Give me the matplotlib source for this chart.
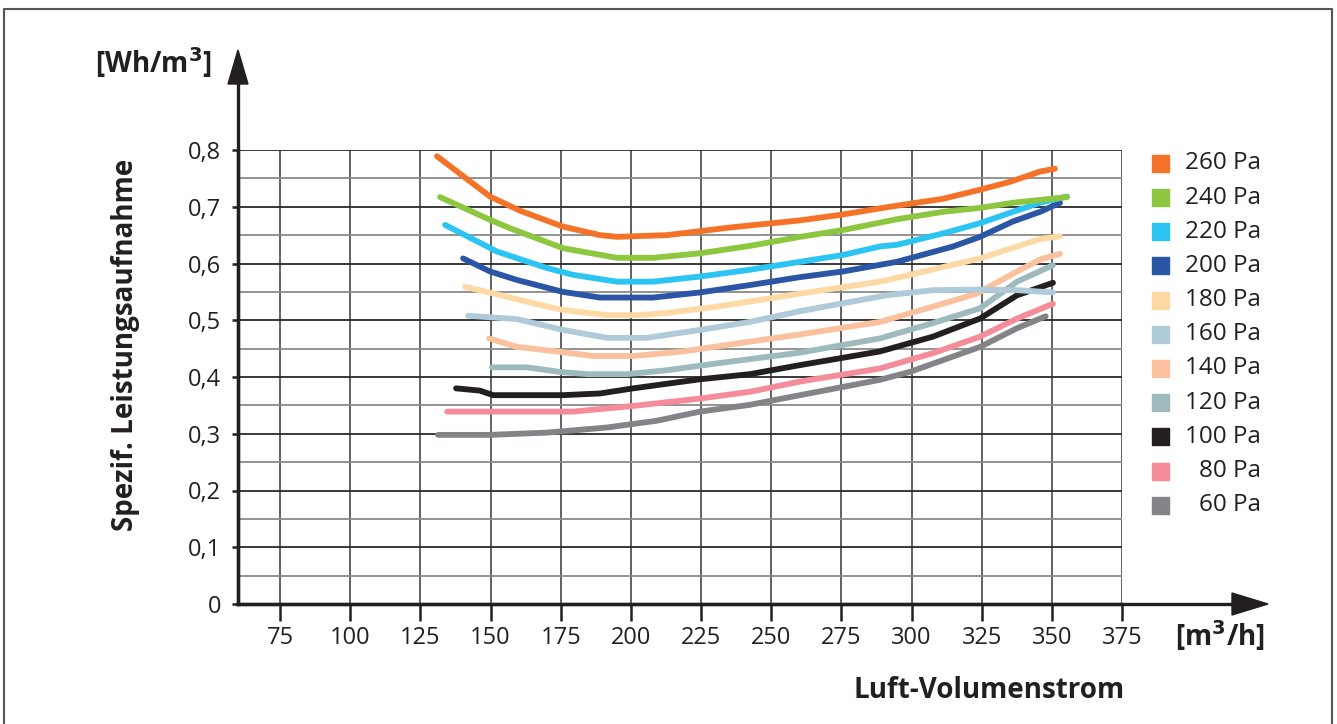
import matplotlib
matplotlib.use("Agg")
import matplotlib.pyplot as plt
from matplotlib.patches import Rectangle, Polygon
from matplotlib.lines import Line2D
import numpy as np

plt.rcParams['font.family'] = ['Open Sans', 'DejaVu Sans']

# ---------------- data ----------------
labels = ["260 Pa", "240 Pa", "220 Pa", "200 Pa", "180 Pa", "160 Pa",
          "140 Pa", "120 Pa", "100 Pa", "80 Pa", "60 Pa"]
colors = ["#F47328", "#8DC63F", "#2BC4F3", "#2B55A5", "#FDD9A5", "#AFCAD8",
          "#FBC09E", "#9DBBBC", "#231F20", "#F48D99", "#838487"]

x260 = [130.9, 149.8, 160.5, 175.8, 189.0, 195.0, 212.9, 224.6, 236.4, 260.3, 275.0, 292.3, 311.2, 324.4, 335.1, 345.8, 351.1]
y260 = [0.789, 0.718, 0.693, 0.665, 0.650, 0.647, 0.650, 0.657, 0.664, 0.676, 0.686, 0.700, 0.714, 0.730, 0.744, 0.762, 0.767]

x240 = [132.0, 149.8, 157.0, 175.8, 195.0, 207.9, 224.6, 242.4, 260.3, 275.6, 294.8, 311.2, 324.4, 336.1, 345.8, 355.4]
y240 = [0.717, 0.677, 0.662, 0.627, 0.610, 0.610, 0.618, 0.631, 0.647, 0.659, 0.678, 0.691, 0.698, 0.707, 0.712, 0.717]

x220 = [133.8, 152.3, 170.1, 179.4, 195.0, 207.9, 224.6, 242.4, 260.3, 275.6, 288.7, 294.8, 311.2, 324.4, 336.1, 345.8, 355.4]
y220 = [0.668, 0.621, 0.592, 0.580, 0.568, 0.568, 0.577, 0.589, 0.603, 0.615, 0.630, 0.633, 0.653, 0.671, 0.691, 0.707, 0.718]

x200 = [140.2, 149.8, 159.4, 175.8, 189.0, 207.9, 224.6, 242.4, 260.3, 275.6, 294.8, 314.8, 324.4, 336.1, 345.8, 352.9]
y200 = [0.609, 0.586, 0.571, 0.550, 0.540, 0.540, 0.549, 0.562, 0.576, 0.586, 0.603, 0.630, 0.647, 0.674, 0.691, 0.707]

x180 = [140.9, 148.7, 165.1, 175.8, 191.5, 203.2, 212.9, 230.7, 260.3, 288.7, 299.4, 324.4, 345.8, 352.9]
y180 = [0.559, 0.550, 0.530, 0.518, 0.509, 0.509, 0.513, 0.524, 0.547, 0.568, 0.580, 0.609, 0.643, 0.648]

x160 = [142.0, 159.4, 175.8, 191.5, 205.7, 224.6, 242.4, 260.3, 275.6, 291.2, 307.6, 324.4, 337.6, 350.4]
y160 = [0.508, 0.502, 0.483, 0.469, 0.469, 0.483, 0.497, 0.516, 0.530, 0.544, 0.553, 0.554, 0.553, 0.549]

x140 = [149.5, 159.4, 173.7, 186.5, 200.8, 218.6, 236.4, 260.3, 288.7, 307.6, 323.3, 337.6, 345.8, 352.9]
y140 = [0.468, 0.453, 0.445, 0.437, 0.437, 0.445, 0.458, 0.475, 0.497, 0.524, 0.547, 0.586, 0.607, 0.617]

x120 = [150.5, 163.0, 174.7, 184.4, 198.6, 212.9, 230.7, 260.3, 288.7, 307.6, 324.4, 337.6, 350.4]
y120 = [0.417, 0.417, 0.409, 0.405, 0.405, 0.412, 0.424, 0.443, 0.468, 0.495, 0.521, 0.568, 0.597]

x100 = [137.7, 146.2, 150.9, 175.8, 189.0, 200.8, 224.6, 242.4, 260.3, 288.7, 307.6, 324.4, 337.6, 350.4]
y100 = [0.380, 0.376, 0.368, 0.368, 0.371, 0.380, 0.396, 0.405, 0.421, 0.445, 0.471, 0.503, 0.544, 0.566]

x80 = [134.5, 179.4, 200.8, 224.6, 242.4, 260.3, 288.7, 307.6, 324.4, 337.6, 350.4]
y80 = [0.339, 0.339, 0.349, 0.362, 0.374, 0.392, 0.415, 0.442, 0.471, 0.503, 0.529]

x60 = [131.3, 149.8, 170.1, 191.5, 209.3, 224.6, 242.4, 260.3, 288.7, 299.4, 324.4, 337.6, 347.8]
y60 = [0.298, 0.298, 0.302, 0.311, 0.323, 0.339, 0.351, 0.368, 0.395, 0.409, 0.453, 0.486, 0.507]

series_x = [x260, x240, x220, x200, x180, x160, x140, x120, x100, x80, x60]
series_y = [y260, y240, y220, y200, y180, y160, y140, y120, y100, y80, y60]

xticks = [75, 100, 125, 150, 175, 200, 225, 250, 275, 300, 325, 350, 375]
yticks = [0, 0.1, 0.2, 0.3, 0.4, 0.5, 0.6, 0.7, 0.8]
ytick_labels = ["0", "0,1", "0,2", "0,3", "0,4", "0,5", "0,6", "0,7", "0,8"]

# ---------------- figure ----------------
W, H = 1337, 724
fig = plt.figure(figsize=(W / 100, H / 100), dpi=100)

def fx(px):
    return px / W

def fy(py):
    return 1 - py / H

ax = fig.add_axes([fx(238), fy(604), fx(1122) - fx(238), fy(150) - fy(604)])
ax.set_xlim(60, 375)
ax.set_ylim(0, 0.8)

# grid
for xv in xticks:
    ax.axvline(xv, color="#555555", lw=1.3, zorder=1)
for yv in np.arange(0.05, 0.8, 0.1):
    ax.axhline(yv, color="#8a8a8a", lw=1.3, zorder=1)
for yv in yticks[1:]:
    ax.axhline(yv, color="#2a2a2a", lw=1.3, zorder=1)

for xs, ys, c in zip(series_x[::-1], series_y[::-1], colors[::-1]):
    ax.plot(xs, ys, color=c, lw=4.2, solid_capstyle="round", solid_joinstyle="round", zorder=3)

ax.set_xticks(xticks)
ax.set_xticklabels([str(v) for v in xticks])
ax.set_yticks(yticks)
ax.set_yticklabels(ytick_labels)
ax.tick_params(axis="x", direction="out", length=12, width=1.8, color="#231F20",
               labelsize=17, pad=4, labelcolor="#231F20")
ax.tick_params(axis="y", direction="out", length=4, width=1.8, color="#231F20",
               labelsize=17, pad=8, labelcolor="#231F20")
for s in ["top", "right"]:
    ax.spines[s].set_visible(False)
for s in ["left", "bottom"]:
    ax.spines[s].set_linewidth(2.4)
    ax.spines[s].set_color("#231F20")

# axis arrows
fig.add_artist(Line2D([fx(238), fx(238)], [fy(604), fy(80)], color="#231F20", lw=2.4))
fig.add_artist(Line2D([fx(238), fx(1240)], [fy(604), fy(604)], color="#231F20", lw=2.4))
fig.add_artist(Polygon([[fx(238), fy(50)], [fx(228), fy(84)], [fx(248), fy(84)]],
                       closed=True, color="#231F20", transform=fig.transFigure))
fig.add_artist(Polygon([[fx(1268), fy(604)], [fx(1232), fy(593)], [fx(1232), fy(615)]],
                       closed=True, color="#231F20", transform=fig.transFigure))

# texts
tc = "#231F20"
fig.text(fx(153), fy(63), "[Wh/m$^\\mathbf{3}$]", ha="center", va="center",
         fontsize=20, fontweight="bold", color=tc)
fig.text(fx(1220), fy(636), "[m$^\\mathbf{3}$/h]", ha="center", va="center",
         fontsize=20, fontweight="bold", color=tc)
fig.text(fx(989), fy(690), "Luft-Volumenstrom", ha="center", va="center",
         fontsize=20, fontweight="bold", color=tc)
fig.text(fx(125), fy(345), "Spezif. Leistungsaufnahme", ha="center", va="center",
         rotation=90, fontsize=20, fontweight="bold", color=tc)

# legend
row0, step = 163.3, 34.2
for i, (lab, c) in enumerate(zip(labels, colors)):
    yc = row0 + i * step
    fig.add_artist(Rectangle((fx(1152), fy(yc + 8.5)), fx(17), 17 / H,
                             color=c, transform=fig.transFigure))
    fig.text(fx(1261), fy(yc), lab, ha="right", va="center", fontsize=17.5, color=tc)

# outer frame
fig.add_artist(Line2D([fx(4), fx(4), fx(1332), fx(1332)], [0, fy(9), fy(9), 0],
                      color="#555555", lw=1.5))

fig.savefig("out.png", dpi=100)
